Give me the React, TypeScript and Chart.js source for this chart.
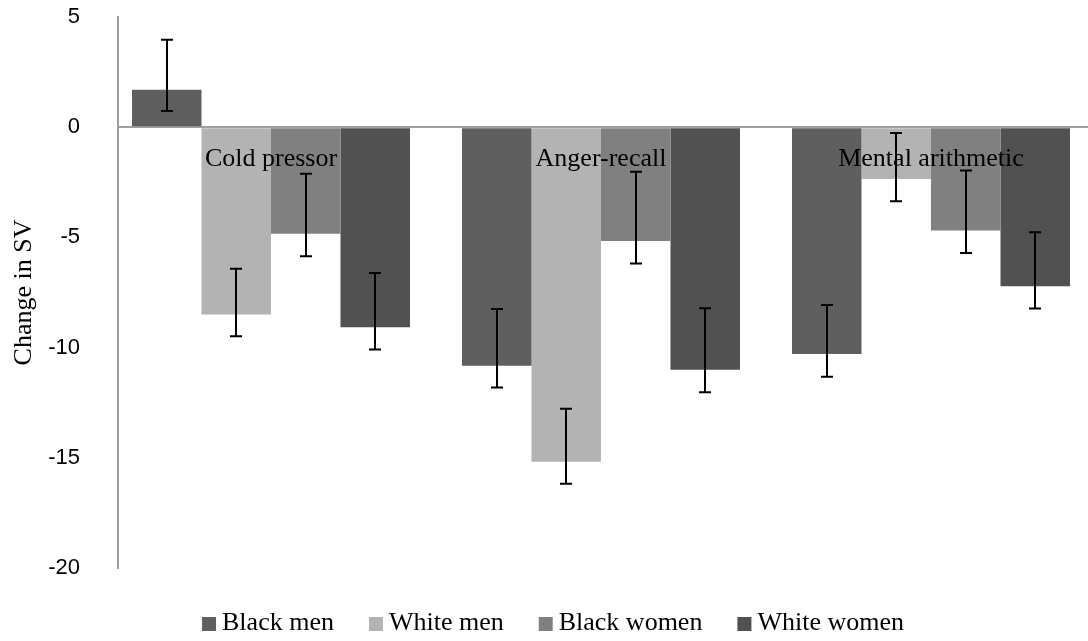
import React, { useEffect, useRef } from "react";
import { Chart, registerables } from "chart.js";

Chart.register(...registerables);

// ---- data ----
const categories = ["Cold pressor", "Anger-recall", "Mental arithmetic"];
const seriesNames = ["Black men", "White men", "Black women", "White women"];
const seriesColors = ["#5f5f5f", "#b3b3b3", "#808080", "#515151"];

const blackMen = [1.7, -10.82, -10.29];
const whiteMen = [-8.5, -15.18, -2.35];
const blackWomen = [-4.83, -5.16, -4.69];
const whiteWomen = [-9.08, -11.0, -7.22];

// error bar extents (upper / lower)
const blackMenErrUp = [2.27, 2.57, 2.22];
const blackMenErrDown = [0.97, 0.99, 1.03];
const whiteMenErrUp = [2.08, 2.4, 2.09];
const whiteMenErrDown = [0.99, 1.0, 1.01];
const blackWomenErrUp = [2.72, 3.14, 2.73];
const blackWomenErrDown = [1.03, 1.02, 1.02];
const whiteWomenErrUp = [2.47, 2.78, 2.45];
const whiteWomenErrDown = [1.01, 1.03, 1.01];

const yMin = -20;
const yMax = 5;
const yStep = 5;
const yTitle = "Change in SV";

const seriesValues = [blackMen, whiteMen, blackWomen, whiteWomen];
const seriesErrUp = [blackMenErrUp, whiteMenErrUp, blackWomenErrUp, whiteWomenErrUp];
const seriesErrDown = [blackMenErrDown, whiteMenErrDown, blackWomenErrDown, whiteWomenErrDown];

const SERIF = '"Liberation Serif", "Times New Roman", serif';
const SANS = '"Liberation Sans", Arial, sans-serif';

// category labels drawn just below the zero line (axis crosses at 0)
const categoryLabelPlugin = {
  id: "categoryLabels",
  afterDatasetsDraw(chart: any) {
    const ctx = chart.ctx;
    const xScale = chart.scales.x;
    const yScale = chart.scales.y;
    const y0 = yScale.getPixelForValue(0);
    ctx.save();
    ctx.font = `26px ${SERIF}`;
    ctx.fillStyle = "#000";
    ctx.textAlign = "center";
    ctx.textBaseline = "middle";
    categories.forEach((c, i) => {
      ctx.fillText(c, xScale.getPixelForValue(i), y0 + 32);
    });
    ctx.restore();
  },
};

const errorBarPlugin = {
  id: "errorBars",
  afterDraw(chart: any) {
    const ctx = chart.ctx;
    const yScale = chart.scales.y;
    ctx.save();
    ctx.strokeStyle = "#000";
    ctx.lineWidth = 2;
    chart.data.datasets.forEach((_ds: any, di: number) => {
      const meta = chart.getDatasetMeta(di);
      meta.data.forEach((bar: any, i: number) => {
        const v = seriesValues[di][i];
        const x = Math.round(bar.x);
        const yTop = yScale.getPixelForValue(v + seriesErrUp[di][i]);
        const yBot = yScale.getPixelForValue(v - seriesErrDown[di][i]);
        const cap = 6;
        ctx.beginPath();
        ctx.moveTo(x, yTop);
        ctx.lineTo(x, yBot);
        ctx.moveTo(x - cap, yTop);
        ctx.lineTo(x + cap, yTop);
        ctx.moveTo(x - cap, yBot);
        ctx.lineTo(x + cap, yBot);
        ctx.stroke();
      });
    });
    ctx.restore();
  },
};

const legendPlugin = {
  id: "customLegend",
  afterDraw(chart: any) {
    const ctx = chart.ctx;
    ctx.save();
    ctx.font = `26px ${SERIF}`;
    ctx.textBaseline = "middle";
    ctx.textAlign = "left";
    const box = 14;
    const boxGap = 6;
    const itemGap = 35;
    const widths = seriesNames.map((n) => ctx.measureText(n).width);
    const total =
      widths.reduce((a: number, w: number) => a + box + boxGap + w, 0) +
      itemGap * (seriesNames.length - 1);
    let x = chart.width / 2 + 9 - total / 2;
    const cy = 623;
    seriesNames.forEach((name, i) => {
      ctx.fillStyle = seriesColors[i];
      ctx.fillRect(x, cy - box / 2 + 1, box, box);
      x += box + boxGap;
      ctx.fillStyle = "#000";
      ctx.fillText(name, x, cy);
      x += widths[i] + itemGap;
    });
    ctx.restore();
  },
};

export default function App() {
  const ref = useRef<HTMLCanvasElement | null>(null);

  useEffect(() => {
    document.body.style.margin = "0";
    if (!ref.current) return;
    const chart = new Chart(ref.current, {
      type: "bar",
      data: {
        datasets: seriesNames.map((name, di) => ({
          label: name,
          data: seriesValues[di].map((v, i) => ({ x: i, y: v })),
          backgroundColor: seriesColors[di],
          borderWidth: 0,
          categoryPercentage: 0.8424,
          barPercentage: 1,
        })),
      },
      options: {
        animation: false,
        responsive: false,
        maintainAspectRatio: false,
        devicePixelRatio: 1,
        layout: { padding: { top: 17, bottom: 73, left: 0, right: 0 } },
        plugins: {
          legend: { display: false },
          tooltip: { enabled: false },
        },
        scales: {
          x: {
            type: "linear",
            display: false,
            offset: false,
            min: -0.4636,
            max: 2.4758,
            afterBuildTicks: (scale: any) => {
              scale.ticks = categories.map((_c, i) => ({ value: i }));
            },
          },
          y: {
            min: yMin,
            max: yMax,
            afterFit: (scale: any) => {
              scale.width = 118;
            },
            grid: {
              drawTicks: true,
              tickLength: 38,
              tickColor: "rgba(0,0,0,0)",
              lineWidth: 2,
              color: (c: any) => (c.tick && c.tick.value === 0 ? "#a0a0a0" : "rgba(0,0,0,0)"),
            },
            border: { display: true, color: "#a0a0a0", width: 2 },
            ticks: {
              stepSize: yStep,
              padding: 0,
              color: "#000",
              font: { family: SANS, size: 22 },
            },
            title: {
              display: true,
              text: yTitle,
              color: "#000",
              font: { family: SERIF, size: 26 },
              padding: { top: 9, bottom: 0 },
            },
          },
        },
      },
      plugins: [categoryLabelPlugin, errorBarPlugin, legendPlugin],
    });
    return () => chart.destroy();
  }, []);

  return (
    <div style={{ width: 1088, height: 641 }}>
      <canvas ref={ref} width={1088} height={641} style={{ display: "block" }} />
    </div>
  );
}
